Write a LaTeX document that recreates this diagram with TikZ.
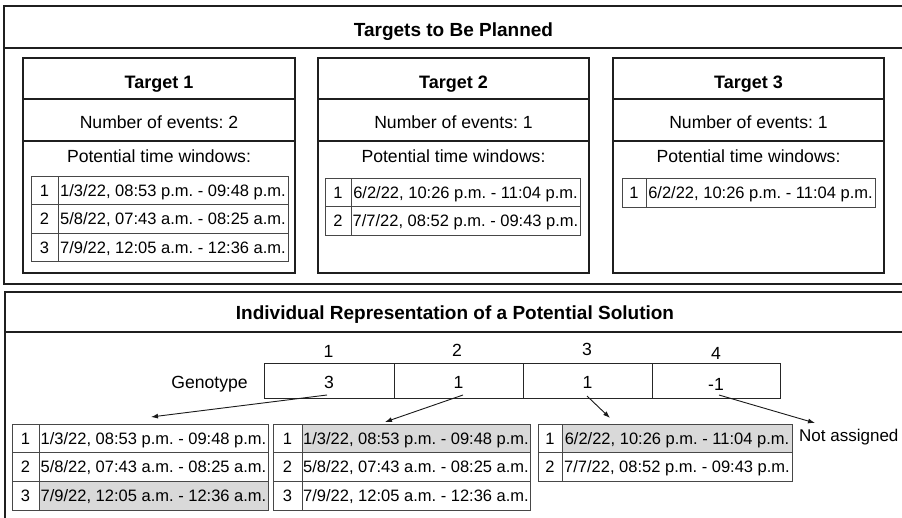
\documentclass[tikz,border=0pt]{standalone}
\usepackage{fontspec}
\setmainfont{Liberation Sans}
\usetikzlibrary{arrows.meta}

% one row of a time-window table: index cell followed by the date cell
% #1 name, #2 x, #3 top y, #4 index width, #5 text width, #6 height, #7 index, #8 text, #9 fill
\newcommand\mkwin[9]{%
  \node[cell, minimum width=#4pt, minimum height=#6pt] (#1i) at (#2,#3) {#7};
  \node[cell, minimum width=#5pt, minimum height=#6pt, fill=#9] (#1t) at (#1i.north east) {#8};
}

\begin{document}
\frenchspacing
\begin{tikzpicture}[x=1pt,y=-1pt,
  frame/.style={draw=black!88, line width=1.8pt, anchor=north west, inner sep=0pt, outer sep=0pt},
  tbox/.style={draw=black!88, line width=1.8pt, anchor=north west, inner sep=0pt, outer sep=0pt,
               minimum height=215pt},
  sepline/.style={draw=black!88, line width=1.6pt},
  cell/.style={draw=black!72, line width=0.9pt, anchor=north west, inner sep=0pt, outer sep=0pt,
               font=\fontsize{16.5}{19}\selectfont, text height=11.8pt, text depth=0pt},
  gcell/.style={draw=black!85, line width=1pt, anchor=north west, inner sep=0pt, outer sep=0pt,
               minimum height=35pt},
  title/.style={anchor=base, inner sep=0pt, font=\fontsize{19}{22}\selectfont\bfseries},
  ttitle/.style={anchor=base, inner sep=0pt, font=\fontsize{18}{21}\selectfont\bfseries},
  txt/.style={anchor=base, inner sep=0pt, font=\fontsize{17.6}{21}\selectfont},
  arr/.style={draw=black!90, line width=0.9pt, -{Latex[length=7pt,width=5pt]}}
]
\useasboundingbox (0,0) rectangle (902,517);
\clip (0,0) rectangle (902,517);
\fill[white] (0,0) rectangle (902,517);

% ---------- upper panel ----------
\node[frame, minimum width=910pt, minimum height=278pt] (top) at (4,6) {};
\draw[sepline] ([yshift=-42pt]top.north west) -- ([yshift=-42pt]top.north east);
\node[title] (toptitle) at (453.5,36) {Targets to Be Planned};

% target boxes with their three sections
\foreach \n/\x/\w in {1/23/272, 2/318/271, 3/613/271}{
  \node[tbox, minimum width=\w pt] (tb\n) at (\x,58) {};
  \draw[sepline] ([yshift=-41pt]tb\n.north west) -- ([yshift=-41pt]tb\n.north east);
  \draw[sepline] ([yshift=-83pt]tb\n.north west) -- ([yshift=-83pt]tb\n.north east);
}
\node[ttitle] (tt1) at (159,88) {Target 1};
\node[ttitle] (tt2) at (453.5,88) {Target 2};
\node[ttitle] (tt3) at (748.5,88) {Target 3};
\node[txt] (ne1) at (159,128) {Number of events: 2};
\node[txt] (ne2) at (453.5,128) {Number of events: 1};
\node[txt] (ne3) at (748.5,128) {Number of events: 1};
\node[txt] (pw1) at (159,162) {Potential time windows:};
\node[txt] (pw2) at (453.5,162) {Potential time windows:};
\node[txt] (pw3) at (748.5,162) {Potential time windows:};

% time-window tables of the targets
\mkwin{aa}{31}{176}{27}{230}{28.5}{1}{1/3/22, 08:53 p.m. - 09:48 p.m.}{white}
\mkwin{ab}{31}{204.5}{27}{230}{28.5}{2}{5/8/22, 07:43 a.m. - 08:25 a.m.}{white}
\mkwin{ac}{31}{233}{27}{230}{28.5}{3}{7/9/22, 12:05 a.m. - 12:36 a.m.}{white}
\mkwin{ba}{325}{178}{26}{229}{28.5}{1}{6/2/22, 10:26 p.m. - 11:04 p.m.}{white}
\mkwin{bb}{325}{206.5}{26}{229}{28.5}{2}{7/7/22, 08:52 p.m. - 09:43 p.m.}{white}
\mkwin{ca}{622}{178}{24}{229}{29}{1}{6/2/22, 10:26 p.m. - 11:04 p.m.}{white}

% ---------- lower panel ----------
\node[frame, minimum width=910pt, minimum height=240pt] (bot) at (5,292) {};
\draw[sepline] ([yshift=-40pt]bot.north west) -- ([yshift=-40pt]bot.north east);
\node[title] (bottitle) at (455,319) {Individual Representation of a Potential Solution};

% genotype
\node[txt] (glabel) at (209.5,388.5) {Genotype};
\node[gcell, minimum width=130pt] (g1) at (264,363) {};
\node[gcell, minimum width=129pt] (g2) at (g1.north east) {};
\node[gcell, minimum width=129pt] (g3) at (g2.north east) {};
\node[gcell, minimum width=128pt] (g4) at (g3.north east) {};
\node[txt] (i1) at (328.5,357) {1};
\node[txt] (i2) at (457,356.5) {2};
\node[txt] (i3) at (587,355.5) {3};
\node[txt] (i4) at (716,359) {4};
\node[txt] (v1) at (329,388.5) {3};
\node[txt] (v2) at (458.5,388.5) {1};
\node[txt] (v3) at (587.5,388.5) {1};
\node[txt] (v4) at (716,390.5) {-1};

% decoded time windows
\mkwin{da}{12}{424}{27}{229}{28.7}{1}{1/3/22, 08:53 p.m. - 09:48 p.m.}{white}
\mkwin{db}{12}{452.7}{27}{229}{28.7}{2}{5/8/22, 07:43 a.m. - 08:25 a.m.}{white}
\mkwin{dc}{12}{481.4}{27}{229}{28.7}{3}{7/9/22, 12:05 a.m. - 12:36 a.m.}{black!15}
\mkwin{ea}{273}{424}{29}{228}{28.7}{1}{1/3/22, 08:53 p.m. - 09:48 p.m.}{black!15}
\mkwin{eb}{273}{452.7}{29}{228}{28.7}{2}{5/8/22, 07:43 a.m. - 08:25 a.m.}{white}
\mkwin{ec}{273}{481.4}{29}{228}{28.7}{3}{7/9/22, 12:05 a.m. - 12:36 a.m.}{white}
\mkwin{fa}{538}{424}{24}{230}{28.7}{1}{6/2/22, 10:26 p.m. - 11:04 p.m.}{black!15}
\mkwin{fb}{538}{452.7}{24}{230}{28.7}{2}{7/7/22, 08:52 p.m. - 09:43 p.m.}{white}
\node[txt, anchor=base west, font=\fontsize{17}{20}\selectfont] (na) at (799,441) {Not assigned};

% arrows from genes to their selected windows
\coordinate (s1) at (327,395);
\coordinate (s2) at (463,395);
\coordinate (s3) at (587,396);
\coordinate (s4) at (719,395);
\coordinate (e1) at (151,417);
\coordinate (e2) at (385,422);
\coordinate (e3) at (610,418);
\coordinate (e4) at (815,423);
\draw[arr] (s1) -- (e1);
\draw[arr] (s2) -- (e2);
\draw[arr] (s3) -- (e3);
\draw[arr] (s4) -- (e4);
\end{tikzpicture}
\end{document}
